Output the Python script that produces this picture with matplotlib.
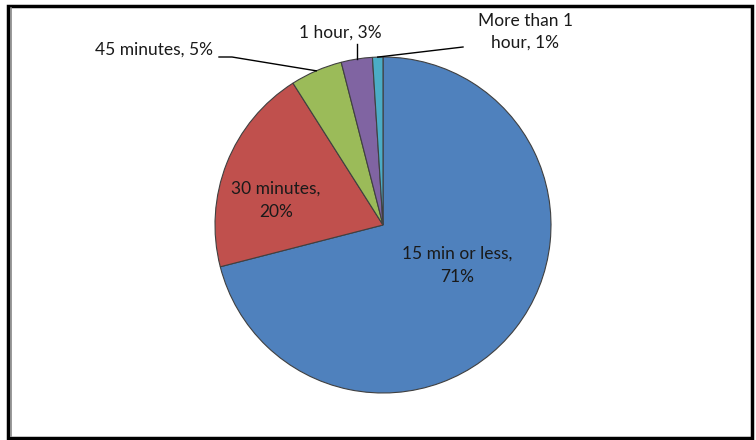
import matplotlib
matplotlib.use("Agg")
import matplotlib.pyplot as plt
import numpy as np
from matplotlib.patches import Rectangle

plt.rcParams["font.family"] = ["Lato", "DejaVu Sans"]

labels = ["15 min or less,\n71%", "30 minutes,\n20%", "45 minutes, 5%", "1 hour, 3%", "More than 1\nhour, 1%"]
values = [71, 20, 5, 3, 1]
colors = ["#4F81BD", "#C0504D", "#9BBB59", "#8064A2", "#4BACC6"]

W, H = 756, 440
fig = plt.figure(figsize=(W / 100, H / 100), dpi=100)
ax = fig.add_axes([0, 0, 1, 1])

# frame
ax.add_patch(Rectangle((8, 2), 744, 432, fill=False, edgecolor="black", linewidth=2.5))
ax.plot([10.5, 10.5], [4, 432], color="#888888", lw=1.2)

cx, cy, r = 383, H - 225, 168
wedges, _ = ax.pie(values, colors=colors, startangle=90, counterclock=False,
                   center=(cx, cy), radius=r, frame=True,
                   wedgeprops=dict(edgecolor="#404040", linewidth=0.8))
ax.set_xlim(0, W)
ax.set_ylim(0, H)
ax.axis("off")

fs = 12.5
tc = "#1a1a1a"
# inside labels
ax.text(457, H - 265, labels[0], ha="center", va="center", fontsize=fs, color=tc, linespacing=1.55)
ax.text(276, H - 200, labels[1], ha="center", va="center", fontsize=fs, color=tc, linespacing=1.55)

# edge points of small slices
def edge_pt(i):
    w = wedges[i]
    a = np.deg2rad((w.theta1 + w.theta2) / 2)
    return cx + r * np.cos(a), cy + r * np.sin(a)

gx, gy = edge_pt(2)
ax.text(154, H - 50, labels[2], ha="center", va="center", fontsize=fs, color=tc)
ax.plot([219, 232, gx], [H - 57, H - 57, gy], color="black", lw=1)

px, py = edge_pt(3)
ax.text(340, H - 33, labels[3], ha="center", va="center", fontsize=fs, color=tc)
ax.plot([px, px], [H - 44, py], color="black", lw=1)

qx, qy = edge_pt(4)
ax.text(525, H - 32, labels[4], ha="center", va="center", fontsize=fs, color=tc,
        linespacing=1.45)
ax.plot([463, qx], [H - 47, qy], color="black", lw=1)

fig.savefig("out.png", dpi=100)
